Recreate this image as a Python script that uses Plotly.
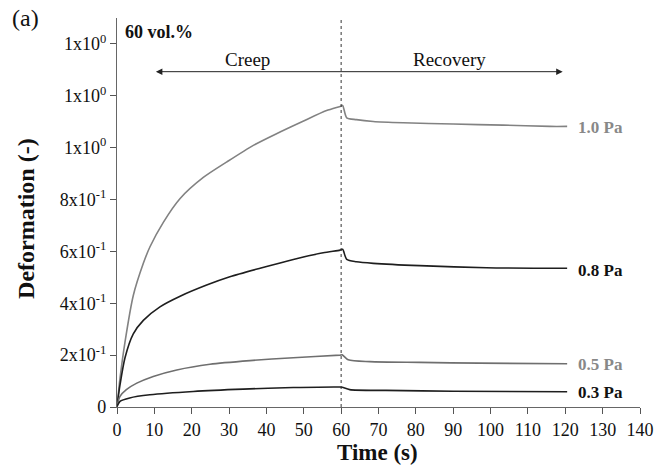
import plotly.graph_objects as go

# Data (time in s, deformation in -)
t_10 = [0, 0.8, 2.14, 4.36, 7.05, 8.83, 12.4, 16.9, 23.1, 29.4, 36.5, 42.7, 49.8, 56.1, 59.9, 60.4,
        61.5, 64.1, 68.6, 76.6, 90, 103.4, 115.9, 120.5]
d_10 = [0, 0.11, 0.25, 0.43, 0.554, 0.618, 0.712, 0.804, 0.885, 0.945, 1.009, 1.054, 1.102, 1.143, 1.160, 1.163,
        1.115, 1.108, 1.101, 1.096, 1.091, 1.087, 1.082, 1.082]

t_08 = [0, 0.8, 2.14, 4.36, 7.05, 11.5, 16.9, 24, 30.2, 38.3, 47.2, 55.2, 59.7, 60.4,
        61.5, 64.1, 68.6, 81, 98.9, 120.5]
d_08 = [0.002, 0.085, 0.19, 0.282, 0.334, 0.386, 0.427, 0.470, 0.502, 0.535, 0.569, 0.595, 0.605, 0.608,
        0.569, 0.560, 0.554, 0.545, 0.537, 0.535]

t_05 = [0, 0.8, 2.5, 5.3, 9.7, 16, 24.9, 35.6, 47.2, 59.7, 60.3,
        61.9, 67.7, 81, 97, 120.5]
d_05 = [0.002, 0.041, 0.067, 0.092, 0.118, 0.143, 0.165, 0.179, 0.190, 0.200, 0.201,
        0.182, 0.175, 0.172, 0.169, 0.167]

t_03 = [0, 0.8, 3.4, 8.8, 20.4, 33.8, 47.2, 59.7, 60.3,
        62.3, 72, 90, 120.5]
d_03 = [0.002, 0.022, 0.035, 0.047, 0.060, 0.069, 0.075, 0.077, 0.076,
        0.067, 0.064, 0.061, 0.059]

labels = ["1.0 Pa", "0.8 Pa", "0.5 Pa", "0.3 Pa"]
label_y = [1.078, 0.528, 0.163, 0.055]
times = [t_10, t_08, t_05, t_03]
defs = [d_10, d_08, d_05, d_03]
line_colors = ["#828282", "#1e1e1e", "#6f6f6f", "#1e1e1e"]
label_colors = ["#888888", "#111111", "#888888", "#111111"]

y_ticks = [0, 0.2, 0.4, 0.6, 0.8, 1.0, 1.2, 1.4]
y_ticktext = ["0", "2x10<sup>-1</sup>", "4x10<sup>-1</sup>", "6x10<sup>-1</sup>", "8x10<sup>-1</sup>",
              "1x10<sup>0</sup>", "1x10<sup>0</sup>", "1x10<sup>0</sup>"]
x_ticks = list(range(0, 141, 10))

FONT = "Liberation Serif, Times New Roman, serif"

fig = go.Figure()
for name, t, d, lc, tc, ly in zip(labels, times, defs, line_colors, label_colors, label_y):
    fig.add_trace(go.Scatter(x=t, y=d, mode="lines",
                             line=dict(color=lc, width=1.6, shape="spline", smoothing=0.7),
                             name=name, showlegend=False, hoverinfo="skip"))
    fig.add_annotation(x=123, y=ly, xref="x", yref="y", text="<b>%s</b>" % name,
                       showarrow=False, xanchor="left", yanchor="middle",
                       font=dict(family=FONT, size=17, color=tc))

# dotted line at t = 60 s
fig.add_shape(type="line", x0=60, x1=60, y0=0, y1=1.5, xref="x", yref="y",
              line=dict(color="#333333", width=1, dash="dot"))

# double arrow Creep / Recovery
fig.add_annotation(x=119.3, y=1.293, ax=10, ay=1.293, xref="x", yref="y", axref="x", ayref="y",
                   text="", showarrow=True, arrowhead=2, startarrowhead=2, arrowside="end+start",
                   arrowsize=1.3, startarrowsize=1.3, arrowwidth=1, arrowcolor="#222222")
fig.add_annotation(x=35, y=1.293, xref="x", yref="y", text="Creep", showarrow=False,
                   yanchor="bottom", yshift=0, font=dict(family=FONT, size=19, color="#111111"))
fig.add_annotation(x=89, y=1.293, xref="x", yref="y", text="Recovery", showarrow=False,
                   yanchor="bottom", yshift=0, font=dict(family=FONT, size=19, color="#111111"))

fig.add_annotation(x=1.6, y=1.447, xref="x", yref="y", text="<b>60 vol.%</b>", showarrow=False,
                   xanchor="left", yanchor="middle", font=dict(family=FONT, size=18, color="#111111"))
fig.add_annotation(x=-0.174, y=1.0, xref="paper", yref="paper", text="(a)", showarrow=False,
                   xanchor="center", yanchor="middle", font=dict(family=FONT, size=24, color="#111111"))

# axis titles
fig.add_annotation(x=0.499, y=-0.116, xref="paper", yref="paper", text="<b>Time (s)</b>",
                   showarrow=False, xanchor="center", yanchor="middle",
                   font=dict(family=FONT, size=23, color="#111111"))
fig.add_annotation(x=-0.174, y=0.486, xref="paper", yref="paper", text="<b>Deformation (-)</b>",
                   showarrow=False, xanchor="center", yanchor="middle", textangle=-90,
                   font=dict(family=FONT, size=24, color="#111111"))

fig.update_layout(
    width=669, height=471,
    margin=dict(l=117, r=29, t=18, b=64),
    paper_bgcolor="white", plot_bgcolor="white",
    font=dict(family=FONT, size=18, color="#111111"),
    xaxis=dict(range=[0, 140], tickmode="array", tickvals=x_ticks, ticks="outside", ticklen=6,
               tickcolor="#555555", showline=True, linecolor="#666666", linewidth=1.2,
               showgrid=False, zeroline=False, automargin=False,
               tickfont=dict(family=FONT, size=18)),
    yaxis=dict(range=[0, 1.5], tickmode="array", tickvals=y_ticks, ticktext=y_ticktext,
               ticks="outside", ticklen=6, tickcolor="#555555", showline=True, linecolor="#666666",
               linewidth=1.2, showgrid=False, zeroline=False, automargin=False,
               tickfont=dict(family=FONT, size=18)),
)

fig.write_html("out.html")
